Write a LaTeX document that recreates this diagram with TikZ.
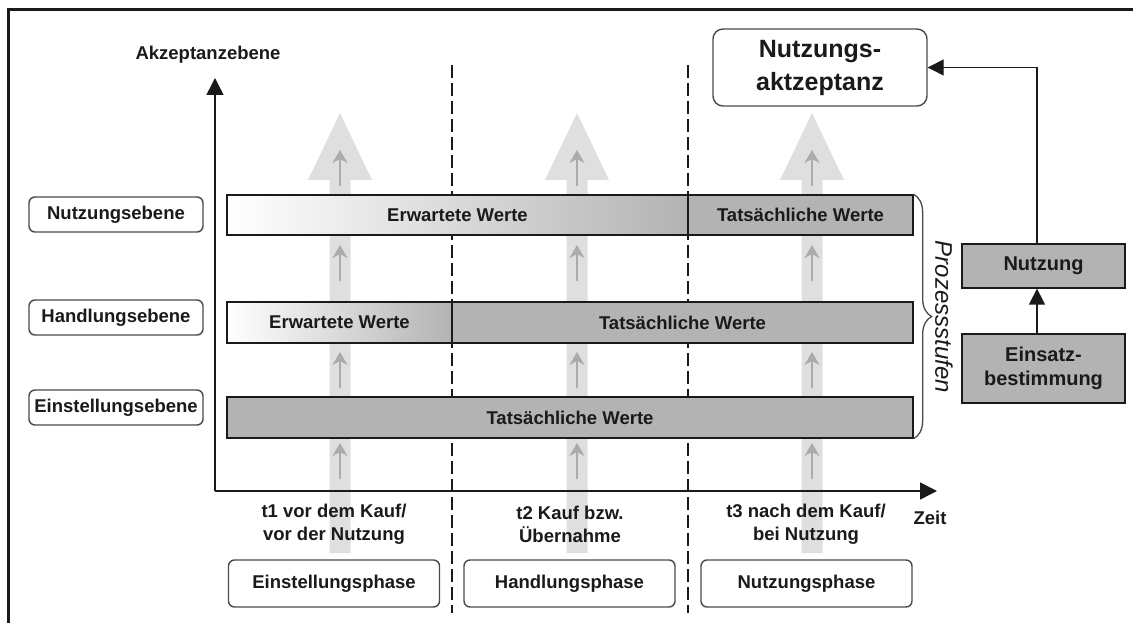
\documentclass[tikz,border=0pt]{standalone}
\usepackage{fontspec}
\setmainfont{Liberation Sans}
\usetikzlibrary{arrows.meta,decorations.pathreplacing}
\definecolor{barfill}{HTML}{B3B3B3}
\definecolor{flowgray}{HTML}{DFDFDF}
\definecolor{tickgray}{HTML}{ABABAB}
\definecolor{edgegray}{HTML}{4A4A4A}
\definecolor{ink}{HTML}{1A1A1A}

\begin{document}
\begin{tikzpicture}[x=1pt,y=-1pt,
  txt/.style={font=\fontsize{18.5}{23}\selectfont\bfseries, text=ink},
  levelbox/.style={txt, draw=edgegray, line width=1.4pt, rounded corners=6pt,
    fill=white, inner sep=0pt, minimum width=174pt, minimum height=35pt},
  phasebox/.style={levelbox, minimum width=211pt, minimum height=47pt},
  bar/.style={txt, draw=ink, line width=1.3pt, fill=barfill, inner sep=0pt,
    minimum height=40pt},
  fadebar/.style={bar, left color=white, right color=barfill},
  sidebox/.style={draw=ink, line width=1.3pt, fill=barfill, inner sep=0pt,
    minimum width=163pt, align=center, text=ink,
    font=\fontsize{20}{24}\selectfont\bfseries},
  axis/.style={draw=ink, line width=1.5pt, -{Triangle[length=17pt,width=17pt]}},
  link/.style={draw=ink, line width=1.4pt, -{Triangle[length=16pt,width=16pt]}},
  divider/.style={draw=ink, line width=1.3pt, dash pattern=on 13pt off 5pt},
  tick/.style={draw=tickgray, line width=1.3pt, -{Stealth[length=13pt,width=15pt,inset=4pt]}},
]
\useasboundingbox (0,0) rectangle (1133,623);

% outer frame (left and top edges)
\draw[line width=3pt, ink] (8.5,623) -- (8.5,10) -- (1133,10);

% phase separators
\draw[divider] (452,65) -- (452,613);
\draw[divider] (688,65) -- (688,613);

% broad upward flow arrows with small inner arrows
\foreach \x in {340,577,812} {
  \fill[flowgray] (\x-10.5,553) -- (\x-10.5,180) -- (\x-32,180) -- (\x,113)
    -- (\x+32,180) -- (\x+10.5,180) -- (\x+10.5,553) -- cycle;
  \foreach \a/\b in {186/150,281/245,388/352,479/443}
    \draw[tick] (\x,\a) -- (\x,\b);
}

% level bars
\node[fadebar, minimum width=461pt] (r1a) at (457.5,215) {Erwartete Werte};
\node[bar, minimum width=225pt] (r1b) at (800.5,215) {Tatsächliche Werte};
\node[fadebar, minimum width=225pt, minimum height=41pt] (r2a) at (339.5,322.5) {Erwartete Werte};
\node[bar, minimum width=461pt, minimum height=41pt] (r2b) at (682.5,322.5) {Tatsächliche Werte};
\node[bar, minimum width=686pt, minimum height=41pt] (r3) at (570,417.5) {Tatsächliche Werte};

% level labels
\node[levelbox] (lv1) at (116,214.5) {Nutzungsebene};
\node[levelbox] (lv2) at (116,317.5) {Handlungsebene};
\node[levelbox] (lv3) at (116,407.5) {Einstellungsebene};

% axes
\coordinate (origin) at (215,491);
\coordinate (ytip) at (215,78);
\coordinate (xtip) at (937,491);
\draw[axis] (origin) -- (ytip);
\draw[axis] (origin) -- (xtip);
\node[txt] (ylab) at (208,55) {Akzeptanzebene};
\node[txt] (xlab) at (930,518) {Zeit};

% time points
\node[txt, align=center] (t1) at (334,524.5) {t1 vor dem Kauf/\\vor der Nutzung};
\node[txt, align=center] (t2) at (570,524.5) {t2 Kauf bzw.\\Übernahme};
\node[txt, align=center] (t3) at (806,524.5) {t3 nach dem Kauf/\\bei Nutzung};

% phases
\node[phasebox] (ph1) at (334,583.5) {Einstellungsphase};
\node[phasebox] (ph2) at (569.5,583.5) {Handlungsphase};
\node[phasebox] (ph3) at (806.5,583.5) {Nutzungsphase};

% process stages brace
\draw[decorate, decoration={brace, amplitude=18pt}, line width=1.3pt, edgegray]
  (r1b.north east) -- (r3.south east);
\node[rotate=-90, text=ink, font=\fontsize{24}{28}\selectfont\itshape] (stufen)
  at (944,317) {Prozessstufen};

% usage chain
\node[draw=edgegray, line width=1.4pt, rounded corners=10pt, fill=white,
  minimum width=214pt, minimum height=77pt, inner sep=0pt, align=center, text=ink,
  font=\fontsize{25}{33}\selectfont\bfseries] (akz) at (820,67.5) {Nutzungs-\\aktzeptanz};
\node[sidebox, minimum height=44pt] (nutz) at (1043.5,266) {Nutzung};
\node[sidebox, minimum height=69pt] (einsatz) at (1043.5,368.5) {Einsatz-\\bestimmung};
\coordinate (stem) at (1037,0);
\draw[link] (einsatz.north -| stem) -- (nutz.south -| stem);
\draw[link] (nutz.north -| stem) |- (akz.east);
\end{tikzpicture}
\end{document}
